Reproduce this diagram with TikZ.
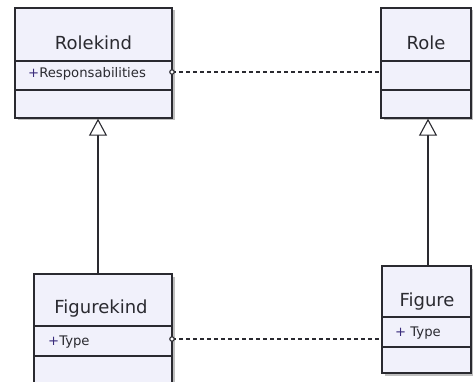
\documentclass[tikz,border=0pt]{standalone}
\usepackage{fontspec}
\setmainfont{DejaVu Sans}
\usetikzlibrary{arrows.meta,shadows}
\definecolor{boxfill}{HTML}{F1F1FB}
\definecolor{boxline}{HTML}{2A2A30}
\definecolor{txt}{HTML}{2A2A30}
\definecolor{plus}{HTML}{3A2C7C}
\tikzset{
  classbox/.style={draw=boxline, fill=boxfill, line width=1.4pt, inner sep=0pt,
    drop shadow={shadow xshift=2.5pt, shadow yshift=-2.5pt, fill=black, opacity=0.25}},
  divider/.style={draw=boxline, line width=1.2pt},
  title/.style={font=\fontsize{18}{21}\selectfont, text=txt, anchor=base, inner sep=0pt},
  attr/.style={font=\fontsize{13.2}{16}\selectfont, text=txt, anchor=base west, inner sep=0pt},
  gen/.style={draw=boxline, line width=1.2pt,
    -{Triangle[open, length=17pt, width=18pt, line width=1.1pt, fill=white]}},
  link/.style={draw=boxline, line width=1.3pt, dash pattern=on 4pt off 3pt},
  enddot/.style={circle, draw=boxline, fill=white, line width=1.1pt, inner sep=0pt, minimum size=4.5pt}
}
\begin{document}
\begin{tikzpicture}[x=1pt, y=-1pt]
\useasboundingbox[fill=white] (0,0) rectangle (473,382);

% class boxes
\node[classbox, minimum width=157pt, minimum height=110pt] (rolekind) at (93.5,63) {};
\node[classbox, minimum width=90pt, minimum height=110pt] (role) at (426,63) {};
\node[classbox, minimum width=138pt, minimum height=124pt] (figurekind) at (103,336) {};
\node[classbox, minimum width=89pt, minimum height=107pt] (figure) at (426.5,319.5) {};

% compartments
\draw[divider] (15,61) -- (172,61) (15,90) -- (172,90);
\draw[divider] (381,61) -- (471,61) (381,90) -- (471,90);
\draw[divider] (34,326) -- (172,326) (34,356) -- (172,356);
\draw[divider] (382,317) -- (471,317) (382,347) -- (471,347);

% names
\node[title] (rolekindname) at (93.5,50) {Rolekind};
\node[title] (rolename) at (426,50) {Role};
\node[title] (figurekindname) at (101,313) {Figurekind};
\node[title] (figurename) at (427,306) {Figure};

% attributes
\node[attr] (resp) at (28,78) {\textcolor{plus}{+}Responsabilities};
\node[attr] (fktype) at (48,345) {\textcolor{plus}{+}Type};
\node[attr] (ftype) at (395,336) {\textcolor{plus}{+} Type};

% generalizations
\draw[gen] ([xshift=-5pt]figurekind.north) -- ([xshift=-5pt]figurekind.north |- rolekind.south);
\draw[gen] ([xshift=1.5pt]figure.north) -- ([xshift=1.5pt]figure.north |- role.south);

% attribute links
\coordinate (respend) at (172,72);
\coordinate (typeend) at (172,339);
\draw[link] (respend) -- (respend -| role.west);
\draw[link] (typeend) -- (typeend -| figure.west);
\node[enddot] (respdot) at (respend) {};
\node[enddot] (typedot) at (typeend) {};
\end{tikzpicture}
\end{document}
